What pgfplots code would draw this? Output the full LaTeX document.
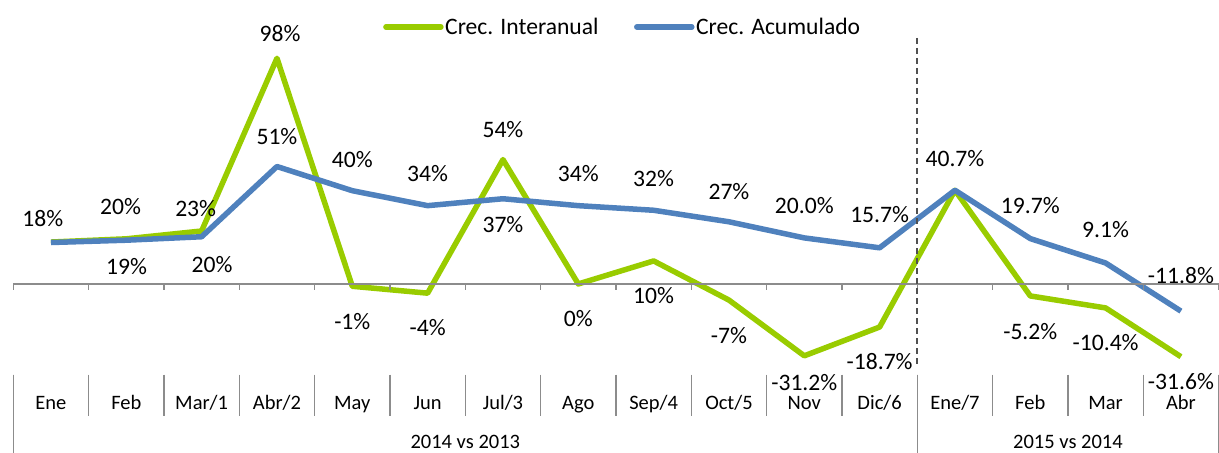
\documentclass[border=0pt]{standalone}
\usepackage{pgfplots}
\pgfplotsset{compat=1.18}
\usepackage{fontspec}
\setmainfont{Carlito}
\definecolor{cgreen}{HTML}{99CC00}
\definecolor{cblue}{HTML}{4F81BD}
\definecolor{axgray}{HTML}{8C8C8C}
\definecolor{dashgray}{HTML}{505050}
\begin{document}
\begin{tikzpicture}[lbl/.style={font=\fontsize{23.6}{28}\selectfont, inner sep=0pt, anchor=center}]
\begin{axis}[
  scale only axis, width=1205.3pt, height=336.7pt,
  xmin=-0.5, xmax=15.5, ymin=-39.4, ymax=106.8,
  axis y line=none, axis x line*=bottom, x axis line style={draw=none},
  xtick={0,...,15},
  xticklabels={Ene,Feb,Mar/1,Abr/2,May,Jun,Jul/3,Ago,Sep/4,Oct/5,Nov,Dic/6,Ene/7,Feb,Mar,Abr},
  major tick length=0pt, minor tick length=0pt,
  xticklabel style={font=\fontsize{20.5}{24}\selectfont, anchor=base, yshift=-34.6pt},
  clip=false,
  legend columns=2,
  legend style={draw=none, fill=none, at={(0.3067,1.0327)}, anchor=west, inner sep=0pt,
    font=\fontsize{23.6}{28}\selectfont,
    /tikz/every even column/.append style={column sep=34pt},
    nodes={inner xsep=1.5pt, inner ysep=0pt}},
  legend image code/.code={\draw[#1, line cap=round] (0pt,0pt) -- (55pt,0pt);},
]
\addplot[cgreen, line width=5.5pt, line join=round] coordinates {
 (0,18.2) (1,19.6) (2,23) (3,98) (4,-1) (5,-4) (6,54) (7,0) (8,10) (9,-7)
 (10,-31.2) (11,-18.7) (12,40.7) (13,-5.2) (14,-10.4) (15,-31.6)};
\addlegendentry{Crec. Interanual}
\addplot[cblue, line width=5.5pt, line join=round] coordinates {
 (0,18) (1,19) (2,20.5) (3,51) (4,40.5) (5,34) (6,37) (7,34) (8,32) (9,27)
 (10,20.0) (11,15.7) (12,40.7) (13,19.7) (14,9.1) (15,-11.8)};
\addlegendentry{Crec. Acumulado}

\draw[axgray, line width=1.5pt] (axis cs:-0.5,0) -- (axis cs:15.5,0);
\pgfplotsinvokeforeach{-0.5,0.5,...,15.5}{%
  \draw[axgray, line width=1.5pt] (axis cs:#1,0) -- ++(0pt,-6pt);
  \draw[axgray, line width=1.5pt] (axis cs:#1,-39.4) -- ++(0pt,-41.3pt);}
\draw[dashgray, line width=1.8pt, dash pattern=on 6pt off 4pt] (axis cs:11.5,106.8) -- (axis cs:11.5,-36);
\draw[axgray, line width=1.5pt] (axis cs:-0.5,-39.4) -- ++(0pt,-80pt);
\draw[axgray, line width=1.5pt] (axis cs:11.5,-39.4) -- ++(0pt,-80pt);
\draw[axgray, line width=1.5pt] (axis cs:15.5,-39.4) -- ++(0pt,-80pt);
\node[font=\fontsize{20.5}{24}\selectfont, inner sep=0pt] at ([yshift=-67.3pt]axis cs:5.5,-39.4) {2014 vs 2013};
\node[font=\fontsize{20.5}{24}\selectfont, inner sep=0pt] at ([yshift=-67.3pt]axis cs:13.5,-39.4) {2015 vs 2014};

\node[lbl] at (axis cs:-0.108,28.5) {18\%};
\node[lbl] at (axis cs:0.924,33.6) {20\%};
\node[lbl] at (axis cs:1.003,7.5) {19\%};
\node[lbl] at (axis cs:1.921,32.6) {23\%};
\node[lbl] at (axis cs:2.138,8.55) {20\%};
\node[lbl] at (axis cs:3.04,108.9) {98\%};
\node[lbl] at (axis cs:3.0,64.0) {51\%};
\node[lbl] at (axis cs:4,54.1) {40\%};
\node[lbl] at (axis cs:5,47.8) {34\%};
\node[lbl] at (axis cs:6,66.9) {54\%};
\node[lbl] at (axis cs:6,25.6) {37\%};
\node[lbl] at (axis cs:7,47.8) {34\%};
\node[lbl] at (axis cs:8,45.9) {32\%};
\node[lbl] at (axis cs:9,40.1) {27\%};
\node[lbl] at (axis cs:10,33.9) {20.0\%};
\node[lbl] at (axis cs:11,30.0) {15.7\%};
\node[lbl] at (axis cs:12,54.6) {40.7\%};
\node[lbl] at (axis cs:13,33.9) {19.7\%};
\node[lbl] at (axis cs:14,23.8) {9.1\%};
\node[lbl] at (axis cs:15,3.7) {-11.8\%};
\node[lbl] at (axis cs:4,-16.4) {-1\%};
\node[lbl] at (axis cs:5,-18.8) {-4\%};
\node[lbl] at (axis cs:7,-14.9) {0\%};
\node[lbl] at (axis cs:8,-5.2) {10\%};
\node[lbl] at (axis cs:9,-22.6) {-7\%};
\node[lbl] at (axis cs:10,-42.6) {-31.2\%};
\node[lbl] at (axis cs:11,-33.7) {-18.7\%};
\node[lbl] at (axis cs:13,-20.7) {-5.2\%};
\node[lbl] at (axis cs:14,-25.5) {-10.4\%};
\node[lbl] at (axis cs:15,-42.4) {-31.6\%};

\coordinate (BL) at (rel axis cs:0,0);
\coordinate (TR) at (rel axis cs:1,1);
\end{axis}
\pgfresetboundingbox
\path ([xshift=-13.3pt,yshift=-77.3pt]BL) rectangle ([xshift=0.4pt,yshift=38pt]TR);
\end{tikzpicture}
\end{document}
